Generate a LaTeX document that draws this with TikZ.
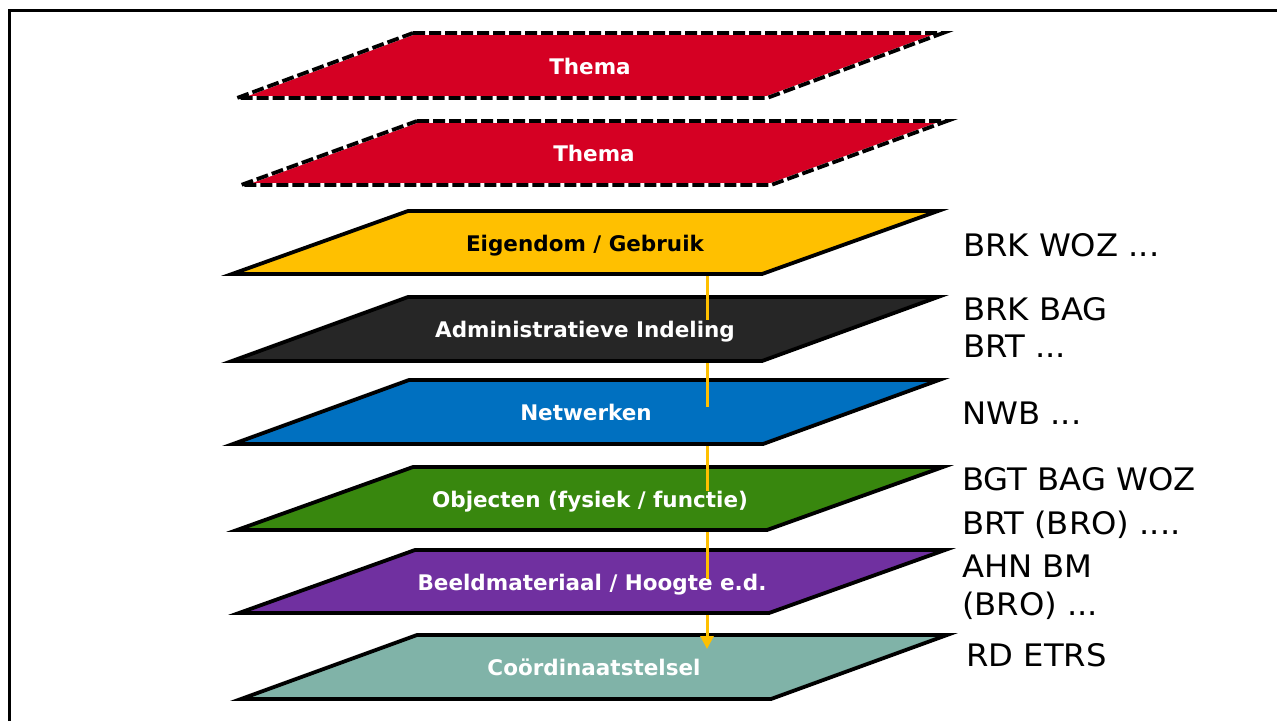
\documentclass[tikz,border=0pt]{standalone}
\usepackage{fontspec}
\setmainfont{DejaVu Sans}
\newfontfamily\sidefont[FakeStretch=1.04]{DejaVu Sans}
\usetikzlibrary{arrows.meta}
\definecolor{cRed}{HTML}{D50023}
\definecolor{cYel}{HTML}{FFC000}
\definecolor{cDark}{HTML}{262626}
\definecolor{cBlue}{HTML}{0070C0}
\definecolor{cGreen}{HTML}{38870E}
\definecolor{cPurple}{HTML}{7030A0}
\definecolor{cTeal}{HTML}{80B3A8}
\begin{document}
\begin{tikzpicture}[x=1pt,y=-1pt,
  layerbox/.style={draw=black,line width=3.8pt,line join=miter},
  dashbox/.style={draw=black,line width=3.8pt,line join=miter,dash pattern=on 12pt off 4pt},
  lbl/.style={font=\bfseries\fontsize{21.5}{24}\selectfont,anchor=base,inner sep=0pt},
  side/.style={font=\sidefont\fontsize{31}{40}\selectfont,anchor=base west,inner sep=0pt,text=black},
  conn/.style={draw=cYel,line width=3pt},
  frameline/.style={draw=black,line width=3pt}]
\useasboundingbox (0,0) rectangle (1277,721);
% frame
\coordinate (fA) at (9,721);
\coordinate (fB) at (9,10);
\coordinate (fC) at (1277,10);
\draw[frameline] (fA) -- (fB) -- (fC);

% Thema 1
\path[fill=cRed] (413,33) -- ++(530,0) -- ++(-176,65) -- ++(-530,0) -- cycle;
\draw[white,line width=3.8pt,line join=miter] (413,33) -- ++(530,0) -- ++(-176,65) -- ++(-530,0) -- cycle;
\draw[dashbox] (413,33) -- ++(530,0) -- ++(-176,65) -- ++(-530,0) -- cycle;
\node[lbl,text=white] (t1) at (590,74) {Thema};

% Thema 2
\path[fill=cRed] (417,121) -- ++(530,0) -- ++(-176,64) -- ++(-530,0) -- cycle;
\draw[white,line width=3.8pt,line join=miter] (417,121) -- ++(530,0) -- ++(-176,64) -- ++(-530,0) -- cycle;
\draw[dashbox] (417,121) -- ++(530,0) -- ++(-176,64) -- ++(-530,0) -- cycle;
\node[lbl,text=white] (t2) at (594,161.5) {Thema};

% Eigendom
\draw[layerbox,fill=cYel] (408,211) -- ++(530,0) -- ++(-176,63) -- ++(-530,0) -- cycle;
\node[lbl,text=black] (t3) at (585,251) {Eigendom / Gebruik};

% Administratieve
\draw[layerbox,fill=cDark] (408,297) -- ++(530,0) -- ++(-176,64) -- ++(-530,0) -- cycle;
\node[lbl,text=white] (t4) at (585,337.5) {Administratieve Indeling};

% Netwerken
\draw[layerbox,fill=cBlue] (409,380) -- ++(530,0) -- ++(-176,64) -- ++(-530,0) -- cycle;
\node[lbl,text=white] (t5) at (586,420.5) {Netwerken};

% Objecten
\draw[layerbox,fill=cGreen] (413,467) -- ++(530,0) -- ++(-176,63) -- ++(-530,0) -- cycle;
\node[lbl,text=white] (t6) at (590,507) {Objecten (fysiek / functie)};

% Beeldmateriaal
\draw[layerbox,fill=cPurple] (415,550) -- ++(530,0) -- ++(-176,63) -- ++(-530,0) -- cycle;
\node[lbl,text=white] (t7) at (592,590) {Beeldmateriaal / Hoogte e.d.};

% Coordinaatstelsel
\draw[layerbox,fill=cTeal] (417,635) -- ++(530,0) -- ++(-176,64) -- ++(-530,0) -- cycle;
\node[lbl,text=white] (t8) at (594,675.5) {Coördinaatstelsel};

% connector segments
\coordinate (c1a) at (707,276);
\coordinate (c1b) at (707,320);
\coordinate (c2a) at (707,363);
\coordinate (c2b) at (707,407);
\coordinate (c3a) at (707,446);
\coordinate (c3b) at (707,491);
\coordinate (c4a) at (707,532);
\coordinate (c4b) at (707,579);
\coordinate (c5a) at (707,615);
\coordinate (c5b) at (707,649);
\draw[conn] (c1a) -- (c1b);
\draw[conn] (c2a) -- (c2b);
\draw[conn] (c3a) -- (c3b);
\draw[conn] (c4a) -- (c4b);
\draw[conn,-{Triangle[length=13pt,width=13pt]}] (c5a) -- (c5b);

% side texts
\node[side] (s1) at (963,256) {BRK WOZ ...};
\node[side] (s2) at (963,320) {BRK BAG};
\node[side] (s3) at (963,357) {BRT ...};
\node[side] (s4) at (962,424) {NWB ...};
\node[side] (s5) at (962,490) {BGT BAG WOZ};
\node[side] (s6) at (962,534) {BRT (BRO) ....};
\node[side] (s7) at (962,577) {AHN BM};
\node[side] (s8) at (962,615) {(BRO) ...};
\node[side] (s9) at (966,666) {RD ETRS};
\end{tikzpicture}
\end{document}
